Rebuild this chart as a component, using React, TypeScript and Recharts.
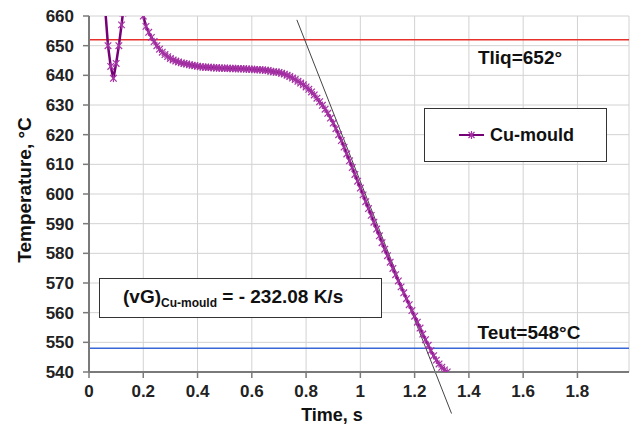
import React from 'react';
import {
  LineChart,
  Line,
  XAxis,
  YAxis,
  CartesianGrid,
  ReferenceLine,
  Legend,
} from 'recharts';

// first dip (thermocouple touching the melt)
const dipTimes = [0.06, 0.07, 0.08, 0.09, 0.1, 0.11, 0.12, 0.125];
const dipTemps = [662, 650, 643, 639, 644, 650, 657, 661];

// cooling curve in the Cu mould
const coolTimes = [
  0.19, 0.2, 0.21, 0.22, 0.23, 0.24, 0.25, 0.26, 0.27, 0.28, 0.29, 0.3, 0.31, 0.32, 0.33, 0.34,
  0.35, 0.36, 0.37, 0.38, 0.39, 0.4, 0.41, 0.42, 0.43, 0.44, 0.45, 0.46, 0.47, 0.48, 0.49, 0.5,
  0.51, 0.52, 0.53, 0.54, 0.55, 0.56, 0.57, 0.58, 0.59, 0.6, 0.61, 0.62, 0.63, 0.64, 0.65, 0.66,
  0.67, 0.68, 0.69, 0.7, 0.71, 0.72, 0.73, 0.74, 0.75, 0.76, 0.77, 0.78, 0.79, 0.8, 0.81, 0.82,
  0.83, 0.84, 0.85, 0.86, 0.87, 0.88, 0.89, 0.9, 0.91, 0.92, 0.93, 0.94, 0.95, 0.96, 0.97, 0.98,
  0.99, 1.0, 1.01, 1.02, 1.03, 1.04, 1.05, 1.06, 1.07, 1.08, 1.09, 1.1, 1.11, 1.12, 1.13, 1.14,
  1.15, 1.16, 1.17, 1.18, 1.19, 1.2, 1.21, 1.22, 1.23, 1.24, 1.25, 1.26, 1.27, 1.28, 1.29, 1.3,
  1.31, 1.32,
];
const coolTemps = [
  664, 660, 656.5, 654.5, 652.8, 651.4, 650, 648.8, 647.8, 647, 646.3, 645.7, 645.2, 644.8, 644.5, 644.2,
  644, 643.8, 643.6, 643.4, 643.2, 643.1, 642.9, 642.8, 642.7, 642.7, 642.6, 642.6, 642.5, 642.5, 642.4, 642.4,
  642.4, 642.3, 642.3, 642.3, 642.2, 642.2, 642.2, 642.1, 642.1, 642, 642, 641.9, 641.9, 641.8, 641.7, 641.6,
  641.4, 641.2, 641.1, 641, 640.7, 640.4, 640, 639.6, 639.1, 638.6, 638, 637.4, 636.8, 636.1, 635.3, 634.4,
  633.4, 632.3, 631.1, 629.9, 628.6, 627.2, 625.6, 623.9, 622, 620, 618, 615.8, 613.5, 611.2, 608.9, 606.6,
  604.3, 602, 599.7, 597.4, 595.1, 592.8, 590.5, 588.2, 585.9, 583.6, 581.4, 579.2, 577, 574.9, 572.8, 570.7,
  568.7, 566.7, 564.7, 562.7, 560.7, 558.8, 556.8, 554.8, 552.8, 550.9, 549, 547.2, 545.5, 544, 542.7, 541.6,
  540.7, 540,
];

// fitted cooling-rate line, (vG) = -232.08 K/s
const fitTimes = [0.766, 1.336];
const fitTemps = [658.7, 526];

const LIQUIDUS = 652;
const EUTECTIC = 548;

const xTicks = [0, 0.2, 0.4, 0.6, 0.8, 1, 1.2, 1.4, 1.6, 1.8];
const yTicks = [540, 550, 560, 570, 580, 590, 600, 610, 620, 630, 640, 650, 660];

const FONT = 'Arial, "Liberation Sans", sans-serif';
const PURPLE = '#760076';
const MARK = '#a533a5';

const data = [
  ...dipTimes.map((t, i) => ({ t, temp: dipTemps[i] })),
  { t: 0.16, temp: null },
  ...coolTimes.map((t, i) => ({ t, temp: coolTemps[i] })),
];

const Star = (props: any) => {
  const { cx, cy, index } = props;
  if (cx == null || cy == null) return <g key={`s-${index}`} />;
  const r = 3.3;
  return (
    <g key={`s-${index}`} stroke={MARK} strokeWidth={1.2}>
      <line x1={cx - r} y1={cy - r} x2={cx + r} y2={cy + r} />
      <line x1={cx - r} y1={cy + r} x2={cx + r} y2={cy - r} />
      <line x1={cx} y1={cy - r - 0.5} x2={cx} y2={cy + r + 0.5} />
    </g>
  );
};

const LegendBox = () => (
  <div
    style={{
      width: 183,
      height: 54,
      boxSizing: 'border-box',
      border: '1px solid #333',
      background: '#fff',
      display: 'flex',
      alignItems: 'center',
      paddingLeft: 33,
      fontFamily: FONT,
      fontWeight: 'bold',
      fontSize: 18,
      color: '#111',
    }}
  >
    <svg width={28} height={12} style={{ marginRight: 4 }}>
      <line x1={1} y1={6} x2={26} y2={6} stroke={PURPLE} strokeWidth={2} />
      <g stroke={MARK} strokeWidth={1.2}>
        <line x1={10.5} y1={3} x2={16.5} y2={9} />
        <line x1={10.5} y1={9} x2={16.5} y2={3} />
        <line x1={13.5} y1={2} x2={13.5} y2={10} />
      </g>
    </svg>
    Cu-mould
  </div>
);

const App = () => {
  return (
    <div style={{ position: 'absolute', left: 0, top: 0, width: 630, height: 431, background: '#fff' }}>
      <LineChart
        width={630}
        height={431}
        data={data}
        margin={{ top: 16, right: 1, bottom: 0, left: 0 }}
        style={{ fontFamily: FONT }}
      >
        <CartesianGrid stroke="#d2d2d2" strokeWidth={1} />
        <XAxis
          type="number"
          dataKey="t"
          domain={[0, 1.99]}
          ticks={xTicks}
          allowDataOverflow
          height={59}
          tickSize={6}
          tickMargin={7}
          axisLine={{ stroke: '#7a7a7a', strokeWidth: 2 }}
          tickLine={{ stroke: '#7a7a7a', strokeWidth: 1.5 }}
          tick={{ fill: '#222', fontSize: 17, fontWeight: 'bold', fontFamily: FONT }}
          tickFormatter={(v: number) => String(v)}
          label={() => (
            <text x={332} y={421} textAnchor="middle" fill="#111" fontSize={18} fontWeight="bold" fontFamily={FONT}>
              Time, s
            </text>
          )}
        />
        <YAxis
          type="number"
          domain={[540, 660]}
          ticks={yTicks}
          allowDataOverflow
          width={89}
          tickSize={6}
          tickMargin={9}
          axisLine={{ stroke: '#7a7a7a', strokeWidth: 2 }}
          tickLine={{ stroke: '#7a7a7a', strokeWidth: 1.5 }}
          tick={{ fill: '#222', fontSize: 17, fontWeight: 'bold', fontFamily: FONT }}
          label={() => (
            <text
              x={24}
              y={190}
              transform="rotate(-90 24 190)"
              textAnchor="middle"
              dominantBaseline="central"
              fill="#111"
              fontSize={19}
              fontWeight="bold"
              fontFamily={FONT}
            >
              Temperature, °C
            </text>
          )}
        />
        <ReferenceLine
          y={LIQUIDUS}
          stroke="#e8302a"
          strokeWidth={1.5}
          label={(p: any) => (
            <text
              x={p.viewBox.x + 431}
              y={p.viewBox.y + 24}
              textAnchor="middle"
              fill="#111"
              fontSize={19}
              fontWeight="bold"
              fontFamily={FONT}
            >
              Tliq=652°
            </text>
          )}
        />
        <ReferenceLine
          y={EUTECTIC}
          stroke="#3a66d8"
          strokeWidth={1.5}
          label={(p: any) => (
            <text
              x={p.viewBox.x + 440}
              y={p.viewBox.y - 9}
              textAnchor="middle"
              fill="#111"
              fontSize={19}
              fontWeight="bold"
              fontFamily={FONT}
            >
              Teut=548°C
            </text>
          )}
        />
        <ReferenceLine
          segment={[
            { x: fitTimes[0], y: fitTemps[0] },
            { x: fitTimes[1], y: fitTemps[1] },
          ]}
          stroke="#444"
          strokeWidth={1}
          ifOverflow="visible"
        />
        <Line
          type="linear"
          dataKey="temp"
          name="Cu-mould"
          stroke={PURPLE}
          strokeWidth={2.5}
          dot={Star}
          activeDot={false}
          isAnimationActive={false}
        />
        <Legend
          layout="horizontal"
          verticalAlign="middle"
          content={() => <LegendBox />}
          wrapperStyle={{ position: 'absolute', left: 424, top: 108, width: 183, height: 54 }}
        />
      </LineChart>
      <div
        style={{
          position: 'absolute',
          left: 99,
          top: 278,
          width: 283,
          height: 40,
          boxSizing: 'border-box',
          border: '1px solid #333',
          background: '#fff',
          fontFamily: FONT,
          fontWeight: 'bold',
          fontSize: 19,
          color: '#111',
          paddingLeft: 23,
          lineHeight: '36px',
          whiteSpace: 'nowrap',
        }}
      >
        (vG)<sub style={{ fontSize: 12, verticalAlign: '-4px', lineHeight: 0 }}>Cu-mould</sub> = - 232.08 K/s
      </div>
    </div>
  );
};

export default App;
